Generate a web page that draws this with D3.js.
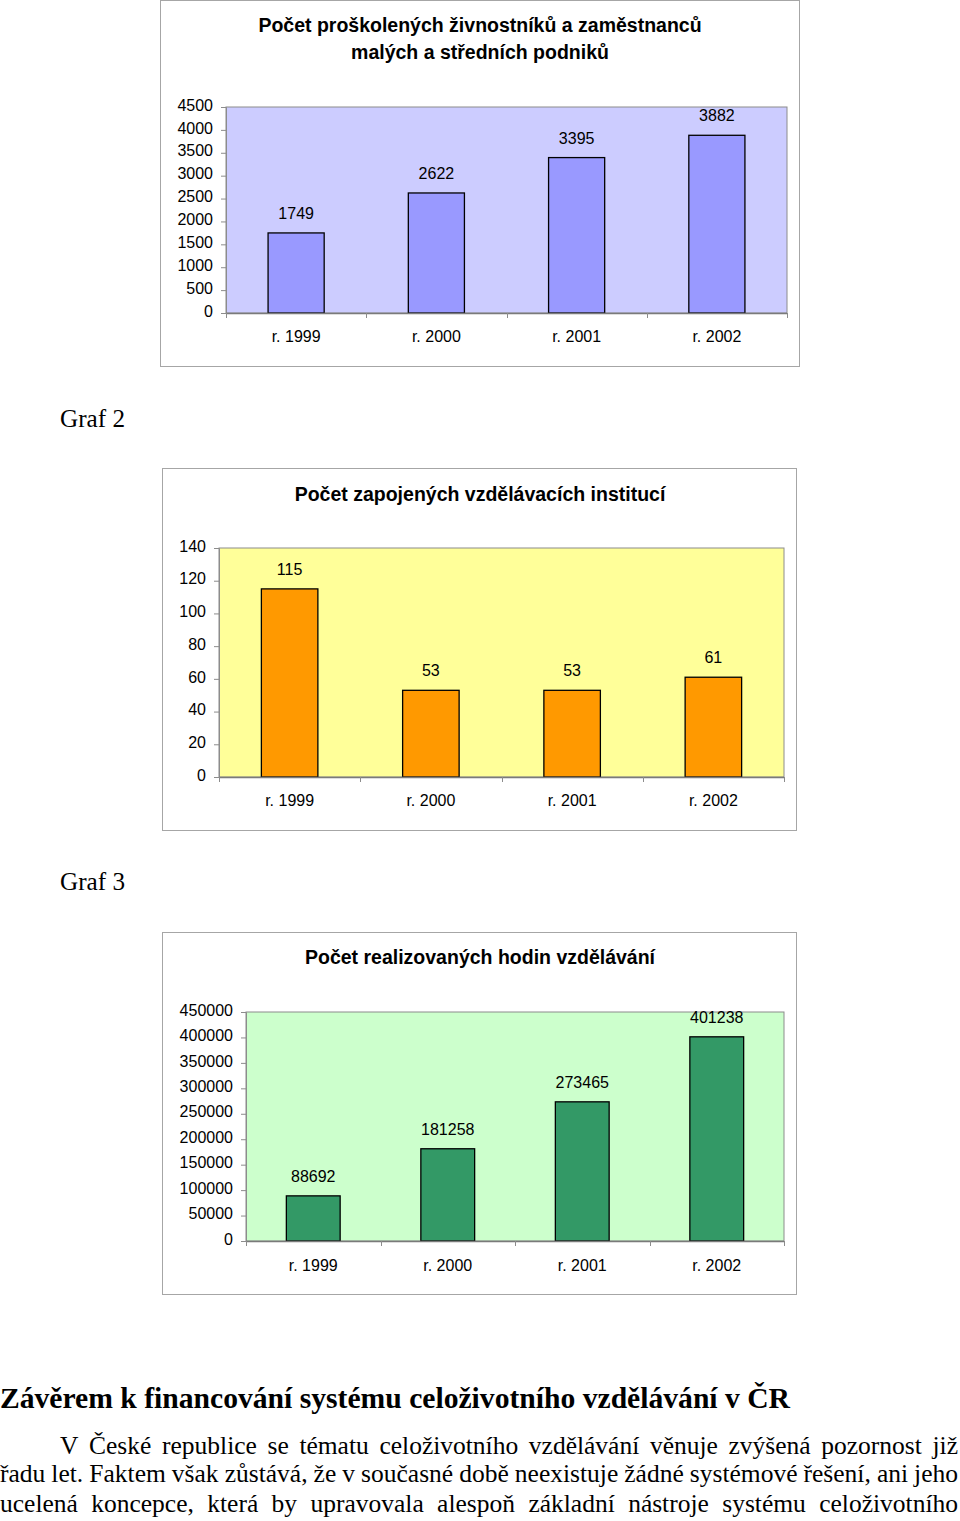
<!DOCTYPE html>
<html><head><meta charset="utf-8">
<script src="https://cdn.jsdelivr.net/npm/d3@7"></script>
<style>body{margin:0;background:#fff;}svg{display:block;}</style>
</head><body>
<svg id="c" width="960" height="1521"></svg>
<script>
const categories = ["r. 1999", "r. 2000", "r. 2001", "r. 2002"];
const trainedPeople = [1749, 2622, 3395, 3882];
const institutions = [115, 53, 53, 61];
const trainingHours = [88692, 181258, 273465, 401238];
const ticks1 = [0,500,1000,1500,2000,2500,3000,3500,4000,4500];
const ticks2 = [0,20,40,60,80,100,120,140];
const ticks3 = [0,50000,100000,150000,200000,250000,300000,350000,400000,450000];
const titles1 = ["Počet proškolených živnostníků a zaměstnanců","malých a středních podniků"];
const titles2 = ["Počet zapojených vzdělávacích institucí"];
const titles3 = ["Počet realizovaných hodin vzdělávání"];
const captions = ["Graf 2","Graf 3"];
const heading = "Závěrem k financování systému celoživotního vzdělávání v ČR";
const paragraph = [
 "V České republice se tématu celoživotního vzdělávání věnuje zvýšená pozornost již",
 "řadu let. Faktem však zůstává, že v současné době neexistuje žádné systémové řešení, ani jeho",
 "ucelená koncepce, která by upravovala alespoň základní nástroje systému celoživotního"
];

const svg = d3.select("#c");
const SANS = "'Liberation Sans', Arial, sans-serif";
const SERIF = "'Liberation Serif', 'Times New Roman', serif";

function chart(o){
  const g = svg.append("g");
  g.append("rect").attr("x",o.frame[0]+0.5).attr("y",o.frame[1]+0.5)
    .attr("width",o.frame[2]-o.frame[0]).attr("height",o.frame[3]-o.frame[1])
    .attr("fill","#fff").attr("stroke","#a6a6a6").attr("stroke-width",1);
  o.titles.forEach((t,i)=>{
    g.append("text").attr("x",480).attr("y",o.titleY+i*27).attr("text-anchor","middle")
      .attr("font-family",SANS).attr("font-weight","bold").attr("font-size",19.5).attr("fill","#000").text(t);
  });
  const [L,T,R,B] = o.plot;
  const x = d3.scaleBand().domain(categories).range([L,R]).paddingInner(0.6).paddingOuter(0.3);
  const y = d3.scaleLinear().domain([0,o.max]).range([B,T]);
  g.append("rect").attr("x",L).attr("y",T).attr("width",R-L).attr("height",B-T)
    .attr("fill",o.bg).attr("stroke","#8c8c8c").attr("stroke-width",1);
  // y axis
  const ya = d3.axisLeft(y).tickValues(o.ticks).tickSize(5).tickPadding(8).tickFormat(d3.format("d"));
  const yg = g.append("g").attr("transform",`translate(${L},0)`).call(ya);
  yg.select(".domain").attr("stroke","#8c8c8c");
  yg.selectAll(".tick line").attr("stroke","#8c8c8c");
  yg.selectAll(".tick text").attr("font-family",SANS).attr("font-size",16).attr("fill","#000").attr("dy","0.2em");
  // bars
  g.selectAll("rect.bar").data(o.values).join("rect").attr("class","bar")
    .attr("x",(d,i)=>x(categories[i])).attr("width",x.bandwidth())
    .attr("y",d=>y(d)).attr("height",d=>B-y(d))
    .attr("fill",o.bar).attr("stroke","#000").attr("stroke-width",1.3);
  g.selectAll("text.val").data(o.values).join("text").attr("class","val")
    .attr("x",(d,i)=>x(categories[i])+x.bandwidth()/2).attr("y",d=>y(d)-14)
    .attr("text-anchor","middle").attr("font-family",SANS).attr("font-size",16).attr("fill","#000")
    .text(d=>d);
  // x axis: line + boundary ticks
  const xg = g.append("g");
  xg.append("line").attr("x1",L).attr("x2",R).attr("y1",B+0.5).attr("y2",B+0.5).attr("stroke","#7a7a7a").attr("stroke-width",1.3);
  d3.range(categories.length+1).forEach(i=>{
    const xx = Math.round(L + i*(R-L)/categories.length)+0.5;
    xg.append("line").attr("x1",xx).attr("x2",xx).attr("y1",B).attr("y2",B+5).attr("stroke","#8c8c8c");
  });
  xg.selectAll("text").data(categories).join("text")
    .attr("x",d=>x(d)+x.bandwidth()/2).attr("y",o.xLabelY).attr("text-anchor","middle")
    .attr("font-family",SANS).attr("font-size",16).attr("fill","#000").text(d=>d);
}

chart({frame:[160,0,799,366], titles:titles1, titleY:32, plot:[226,107,787,313], max:4500, ticks:ticks1,
  values:trainedPeople, bg:"#ccccff", bar:"#9999ff", xLabelY:342});
chart({frame:[162,468,796,830], titles:titles2, titleY:501, plot:[219,548,784,777], max:140, ticks:ticks2,
  values:institutions, bg:"#ffff99", bar:"#ff9900", xLabelY:806});
chart({frame:[162,932,796,1294], titles:titles3, titleY:964, plot:[246,1012,784,1241], max:450000, ticks:ticks3,
  values:trainingHours, bg:"#ccffcc", bar:"#339966", xLabelY:1271});

[[captions[0],427],[captions[1],890]].forEach(([t,yy])=>{
  svg.append("text").attr("x",60).attr("y",yy).attr("font-family",SERIF).attr("font-size",26).attr("fill","#000")
    .attr("textLength",65).attr("lengthAdjust","spacingAndGlyphs").text(t);
});

svg.append("text").attr("x",0).attr("y",1408).attr("font-family",SERIF).attr("font-weight","bold")
  .attr("font-size",29).attr("fill","#000").attr("textLength",790).attr("lengthAdjust","spacingAndGlyphs").text(heading);

const FS = 25.5;
function measure(line){
  const t = svg.append("text").attr("font-family",SERIF).attr("font-size",FS);
  const w = line.split(" ").map(s=>{ t.text(s); return t.node().getComputedTextLength(); });
  t.remove();
  return w;
}
// glyph condensation derived from the tightest line (line 2)
const w2 = measure(paragraph[1]);
const minGap = 5;
const RIGHT = 958;
const sx = Math.min(1, (RIGHT - minGap*(w2.length-1))/d3.sum(w2));

function justify(line, x0, x1, yy){
  const words = line.split(" ");
  const widths = measure(line).map(w=>w*sx);
  const gap = (x1-x0-d3.sum(widths))/(words.length-1);
  const t = svg.append("text").attr("y",yy).attr("font-family",SERIF).attr("font-size",FS).attr("fill","#000");
  let cx = x0;
  words.forEach((w,i)=>{
    t.append("tspan").attr("x",cx).attr("textLength",widths[i]).attr("lengthAdjust","spacingAndGlyphs").text(w);
    cx += widths[i] + gap;
  });
}
justify(paragraph[0],60,RIGHT,1454);
justify(paragraph[1],0,RIGHT,1482);
justify(paragraph[2],0,RIGHT,1512);
</script>
</body></html>
